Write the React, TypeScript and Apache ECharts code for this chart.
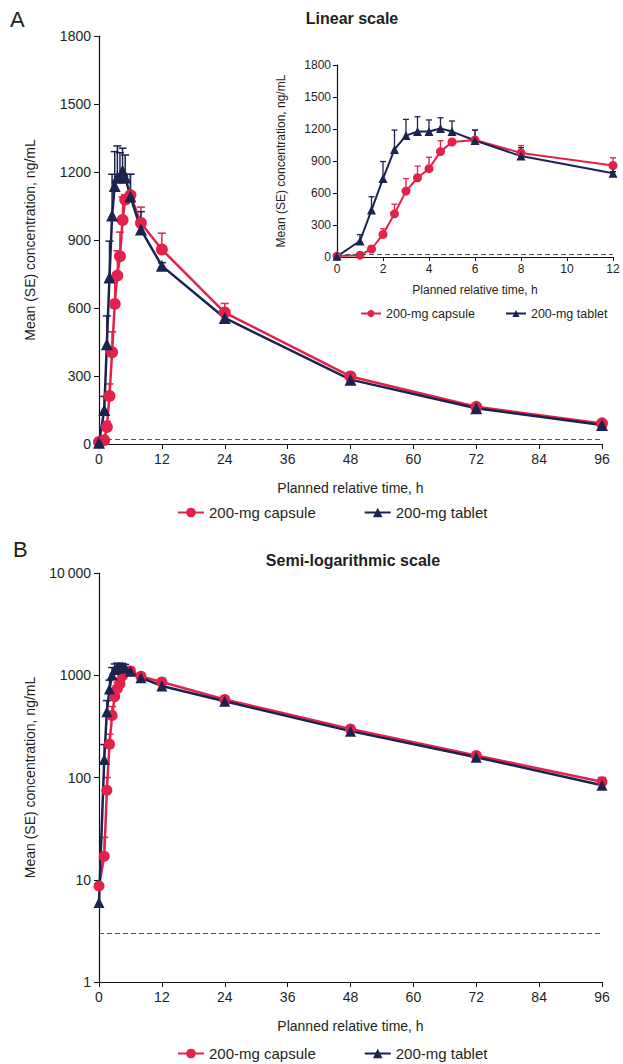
import React, { useEffect, useRef } from "react";
import * as echarts from "echarts";

const times = [0, 1, 1.5, 2, 2.5, 3, 3.5, 4, 4.5, 5, 6, 8, 12, 24, 48, 72, 96];
const capsuleMean = [8.7, 17, 75, 212, 405, 618, 743, 828, 988, 1078, 1098, 975, 858, 580, 298, 164, 91];
const capsuleUpper = [8.7, 26, 100, 265, 495, 735, 852, 935, 1090, 1100, 1190, 1045, 930, 620, 315, 174, 100];
const tabletMean = [6, 150, 440, 735, 1008, 1138, 1176, 1176, 1205, 1176, 1092, 946, 786, 556, 284, 158, 84];
const tabletUpper = [6, 210, 565, 895, 1190, 1290, 1315, 1285, 1305, 1275, 1190, 1025, 800, 572, 296, 166, 89];
const insetTimes = [0, 1, 1.5, 2, 2.5, 3, 3.5, 4, 4.5, 5, 6, 8, 12];
const lloqLinear = 22;
const lloqLog = 3;

const RED = "#e3224b";
const NAVY = "#1b2350";
const TXT = "#231f20";
const FONT = "Liberation Sans, Arial, sans-serif";

function pairs(ts: number[], vals: number[]) {
  return ts.map((t) => [t, vals[times.indexOf(t)]]);
}
function errPairs(ts: number[], vals: number[], ups: number[]) {
  return ts.map((t) => {
    const i = times.indexOf(t);
    return [t, vals[i], ups[i]];
  });
}

function errRender(color: string, capW: number, lw: number) {
  return (params: any, api: any) => {
    const x = api.value(0);
    const y = api.value(1);
    const up = api.value(2);
    if (!(up > y)) return { type: "group", children: [] };
    const p0 = api.coord([x, y]);
    const p1 = api.coord([x, up]);
    return {
      type: "group",
      children: [
        { type: "line", shape: { x1: p0[0], y1: p0[1], x2: p1[0], y2: p1[1] }, style: { stroke: color, lineWidth: lw } },
        { type: "line", shape: { x1: p1[0] - capW / 2, y1: p1[1], x2: p1[0] + capW / 2, y2: p1[1] }, style: { stroke: color, lineWidth: lw } },
      ],
    };
  };
}

const plain = (v: number) => String(v);

export default function App() {
  const ref = useRef<HTMLDivElement>(null);
  useEffect(() => {
    if (!ref.current) return;
    const chart = echarts.init(ref.current, undefined, { renderer: "svg" });

    const axisCommon = (fs: number, tickLen: number, margin: number) => ({
      axisLine: { show: true, lineStyle: { color: "#111", width: 1.2 } },
      axisTick: { show: true, inside: false, length: tickLen, lineStyle: { color: "#111", width: 1 } },
      axisLabel: { color: TXT, fontSize: fs, fontFamily: FONT, margin, formatter: plain },
      splitLine: { show: false },
      nameTextStyle: { color: TXT, fontSize: fs, fontFamily: FONT },
    });

    const ts = times;
    const ins = insetTimes;

    const lineSeries = (name: string, data: any[], color: string, symbol: string, size: number, xi: number, yi: number, lw: number, markY?: number) => {
      const s: any = {
        type: "line",
        name,
        data,
        xAxisIndex: xi,
        yAxisIndex: yi,
        symbol,
        symbolSize: size,
        showSymbol: true,
        lineStyle: { color, width: lw },
        itemStyle: { color, borderWidth: 0 },
        z: 3,
        silent: true,
      };
      if (markY !== undefined) {
        s.markLine = {
          silent: true,
          symbol: "none",
          label: { show: false },
          lineStyle: { color: "#555", type: [5, 3], width: 1 },
          data: [{ yAxis: markY }],
        };
      }
      return s;
    };
    const errSeries = (name: string, data: any[], color: string, capW: number, xi: number, yi: number, lw: number) => ({
      type: "custom",
      name,
      data,
      xAxisIndex: xi,
      yAxisIndex: yi,
      encode: { x: 0, y: [1, 2] },
      renderItem: errRender(color, capW, lw),
      z: 2,
      silent: true,
    });

    const legendCommon = (fs: number, iw: number) => ({
      data: ["200-mg capsule", "200-mg tablet"],
      orient: "horizontal",
      itemWidth: iw,
      itemHeight: 12,
      itemGap: 48,
      textStyle: { color: TXT, fontSize: fs, fontFamily: FONT },
      selectedMode: false,
    });

    const option: any = {
      animation: false,
      backgroundColor: "#fff",
      graphic: [
        { type: "text", left: 10, top: 8, style: { text: "A", fontSize: 22, fontFamily: FONT, fill: TXT } },
        { type: "text", left: 13, top: 538, style: { text: "B", fontSize: 22, fontFamily: FONT, fill: TXT } },
        { type: "text", x: 352, y: 18, style: { text: "Linear scale", fontSize: 16, fontWeight: "bold", fontFamily: FONT, fill: TXT, align: "center", verticalAlign: "middle" } },
        { type: "text", x: 353, y: 560, style: { text: "Semi-logarithmic scale", fontSize: 16, fontWeight: "bold", fontFamily: FONT, fill: TXT, align: "center", verticalAlign: "middle" } },
      ],
      legend: [
        { ...legendCommon(15, 26), left: 172, top: 500 },
        { ...legendCommon(15, 26), left: 172, top: 1041 },
        { ...legendCommon(12.5, 20), left: 355, top: 302, itemGap: 30, itemHeight: 9 },
      ],
      grid: [
        { left: 99, top: 36, width: 503, height: 408 },
        { left: 337, top: 65, width: 276, height: 192 },
        { left: 99, top: 573, width: 503, height: 409 },
      ],
      xAxis: [
        { type: "value", gridIndex: 0, min: 0, max: 96, interval: 12, name: "Planned relative time, h", nameLocation: "middle", nameGap: 37, ...axisCommon(14, 5, 8) },
        { type: "value", gridIndex: 1, min: 0, max: 12, interval: 2, name: "Planned relative time, h", nameLocation: "middle", nameGap: 27, ...axisCommon(12, 4, 6) },
        { type: "value", gridIndex: 2, min: 0, max: 96, interval: 12, name: "Planned relative time, h", nameLocation: "middle", nameGap: 37, ...axisCommon(14, 5, 8) },
      ],
      yAxis: [
        { type: "value", gridIndex: 0, min: 0, max: 1800, interval: 300, name: "Mean (SE) concentration, ng/mL", nameLocation: "middle", nameGap: 62, ...axisCommon(14, 5, 8) },
        { type: "value", gridIndex: 1, min: 0, max: 1800, interval: 300, name: "Mean (SE) concentration, ng/mL", nameLocation: "middle", nameGap: 50, ...axisCommon(12, 4, 6) },
        {
          type: "log", gridIndex: 2, min: 1, max: 10000, logBase: 10, name: "Mean (SE) concentration, ng/mL", nameLocation: "middle", nameGap: 62, ...axisCommon(14, 5, 8),
          axisLabel: { color: TXT, fontSize: 14, fontFamily: FONT, margin: 8, formatter: (v: number) => (v === 10000 ? "10\u2009000" : String(v)) },
          minorTick: { show: false },
        },
      ],
      series: [
        errSeries("capsule SE A", errPairs(ts, capsuleMean, capsuleUpper), RED, 8, 0, 0, 1.5),
        errSeries("tablet SE A", errPairs(ts, tabletMean, tabletUpper), NAVY, 8, 0, 0, 1.5),
        lineSeries("200-mg capsule", pairs(ts, capsuleMean), RED, "circle", 12, 0, 0, 2.5, lloqLinear),
        lineSeries("200-mg tablet", pairs(ts, tabletMean), NAVY, "triangle", 12, 0, 0, 2.5),
        errSeries("capsule SE I", errPairs(ins, capsuleMean, capsuleUpper), RED, 6, 1, 1, 1.3),
        errSeries("tablet SE I", errPairs(ins, tabletMean, tabletUpper), NAVY, 6, 1, 1, 1.3),
        lineSeries("200-mg capsule", pairs(ins, capsuleMean), RED, "circle", 9, 1, 1, 2, lloqLinear),
        lineSeries("200-mg tablet", pairs(ins, tabletMean), NAVY, "triangle", 9, 1, 1, 2),
        errSeries("capsule SE B", errPairs(ts, capsuleMean, capsuleUpper), RED, 8, 2, 2, 1.5),
        errSeries("tablet SE B", errPairs(ts, tabletMean, tabletUpper), NAVY, 8, 2, 2, 1.5),
        lineSeries("200-mg capsule", pairs(ts, capsuleMean), RED, "circle", 11, 2, 2, 2.5, lloqLog),
        lineSeries("200-mg tablet", pairs(ts, tabletMean), NAVY, "triangle", 11, 2, 2, 2.5),
      ],
    };
    chart.setOption(option);
    return () => chart.dispose();
  }, []);
  return <div ref={ref} style={{ position: "fixed", left: 0, top: 0, width: 623, height: 1064 }} />;
}
